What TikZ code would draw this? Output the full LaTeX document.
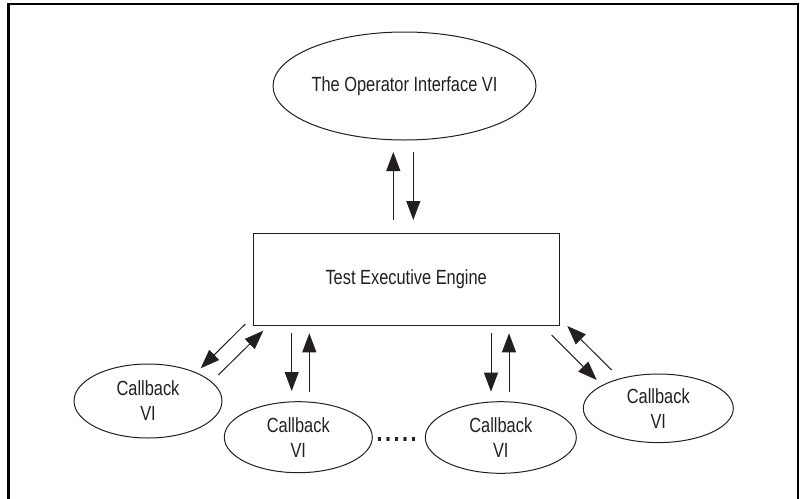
\documentclass[tikz,border=0pt]{standalone}
\usepackage{fontspec}
\setmainfont{Liberation Sans}[FakeStretch=0.8]
\usetikzlibrary{arrows.meta,shapes.geometric}
\definecolor{ink}{HTML}{231F20}
\tikzset{
  lbl/.style={font=\fontsize{20.5}{25}\selectfont, text=ink, align=center, inner sep=0pt},
  oval/.style={lbl, ellipse, draw=ink, line width=1pt},
  box/.style={lbl, rectangle, draw=ink, line width=1pt},
  arr/.style={draw=ink, line width=1pt, -{Triangle[length=19pt,width=14pt]}},
  frame/.style={line width=2.7pt, draw=black}
}
\begin{document}
\begin{tikzpicture}[x=1pt,y=-1pt]
\useasboundingbox (0,0) rectangle (800,498);
\draw[frame] (8.7,500) -- (8.7,4) -- (798,4) -- (798,500);

\node[oval, minimum width=225pt, minimum height=108pt] (op) at (404.5,86) {The Operator Interface VI};
\node[box, minimum width=305.7pt, minimum height=92.4pt] (eng) at (406.2,279.5) {Test Executive Engine};

\node[oval, minimum width=148pt, minimum height=74pt] (cb1) at (148,401) {Callback\\VI};
\node[oval, minimum width=148pt, minimum height=71pt] (cb2) at (298.3,437.2) {Callback\\VI};
\node[oval, minimum width=151pt, minimum height=71.6pt] (cb3) at (500.8,437.5) {Callback\\VI};
\node[oval, minimum width=150pt, minimum height=68.6pt] (cb4) at (658.3,408.3) {Callback\\VI};
\node[lbl, font=\fontsize{27}{25}\selectfont\bfseries] (dots) at (396.7,439.5) {.\kern2.5pt.\kern2.5pt.\kern2.5pt.\kern2.5pt.};

% arrow end points
\coordinate (u0s) at (393.3,220); \coordinate (u0e) at (393.3,152);
\coordinate (d0s) at (413.3,152); \coordinate (d0e) at (413.3,220);
\coordinate (d1s) at (245.3,324); \coordinate (d1e) at (200.7,368.3);
\coordinate (u1s) at (218.3,375); \coordinate (u1e) at (263.3,330.7);
\coordinate (d2s) at (291.7,332.7); \coordinate (d2e) at (291.7,391);
\coordinate (u2s) at (309.3,391.7); \coordinate (u2e) at (309.3,333.3);
\coordinate (d3s) at (491,333.3); \coordinate (d3e) at (491,391.7);
\coordinate (u3s) at (509,391.7); \coordinate (u3e) at (509,333.3);
\coordinate (d4s) at (551.7,335); \coordinate (d4e) at (596.7,380);
\coordinate (u4s) at (611.7,370); \coordinate (u4e) at (567.3,326);

\draw[arr] (u0s) -- (u0e);
\draw[arr] (d0s) -- (d0e);
\draw[arr] (d1s) -- (d1e);
\draw[arr] (u1s) -- (u1e);
\draw[arr] (d2s) -- (d2e);
\draw[arr] (u2s) -- (u2e);
\draw[arr] (d3s) -- (d3e);
\draw[arr] (u3s) -- (u3e);
\draw[arr] (d4s) -- (d4e);
\draw[arr] (u4s) -- (u4e);
\end{tikzpicture}
\end{document}
